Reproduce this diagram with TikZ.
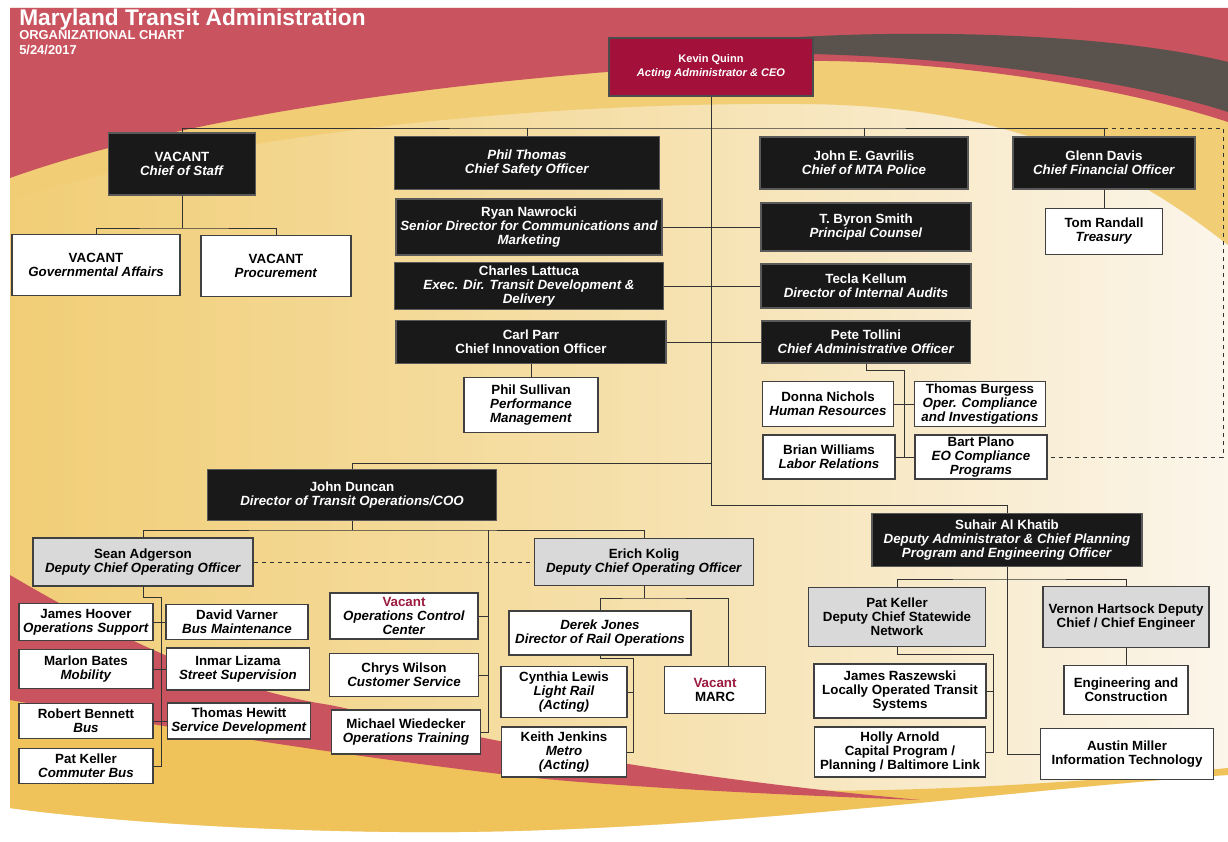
\documentclass[tikz,border=0pt]{standalone}
\usepackage{fontspec}
\setmainfont{Liberation Sans}
\usetikzlibrary{positioning}
\definecolor{mtared}{HTML}{C9545F}
\definecolor{mtadark}{HTML}{5A534D}
\definecolor{mtayellow}{HTML}{F1CE76}
\definecolor{mtadeep}{HTML}{EFC35A}
\definecolor{mtacream}{HTML}{FBF5EA}
\definecolor{ceored}{HTML}{A3113A}
\definecolor{vacred}{HTML}{9B1B3F}

\begin{document}
\begin{tikzpicture}
[x=0.75pt, y=-0.75pt,
% STYLES
every node/.style={font=\fontsize{10}{10.5}\selectfont\bfseries, align=center, inner sep=1pt},
% size of a box, in pixels of the sheet
wh/.style 2 args={minimum width=#1*0.75pt, minimum height=#2*0.75pt},
% the ceo style is used for the administrator only
ceo/.style={rectangle, draw=black!70, fill=ceored, text=white, line width=0.9pt, font=\fontsize{8.3}{10.5}\selectfont\bfseries},
% the exec style is used for the officers reporting to the administrator
exec/.style={rectangle, draw=black!65, fill=black!90, text=white, line width=0.9pt},
% the unit style is used for the offices below them
unit/.style={rectangle, draw=black!75, fill=white, line width=0.9pt},
deputy/.style={unit, fill=black!15},
title/.style={anchor=base west, text=white, inner sep=0pt},
link/.style={draw=black!80, line width=0.7pt}]

% BACKGROUND
\fill[white] (0,0) rectangle (1228,842);
\shade[left color=mtayellow, right color=mtacream, middle color=mtayellow!55!mtacream]
  (10,8) -- (1228,8) -- (1228,775) .. controls (1000,790) and (700,835) .. (400,832)
  .. controls (200,830) and (60,815) .. (10,808) -- cycle;
\fill[mtayellow] (10,60) -- (900,40) .. controls (1050,50) and (1150,80) .. (1228,115) -- (1228,245)
  .. controls (1120,160) and (1000,105) .. (800,104) .. controls (500,102) and (200,140) .. (10,200) -- cycle;
\fill[mtared] (10,8) -- (1228,8) -- (1228,122) .. controls (1100,80) and (900,55) .. (760,62)
  .. controls (500,75) and (200,110) .. (10,178) -- cycle;
\fill[mtadark] (680,48) .. controls (850,25) and (1100,30) .. (1228,62) -- (1228,112)
  .. controls (1100,70) and (850,45) .. (680,56) -- cycle;
\fill[mtadeep] (10,700) .. controls (250,740) and (400,760) .. (500,773)
  .. controls (700,795) and (900,800) .. (1228,768) -- (1228,775)
  .. controls (1000,790) and (700,835) .. (400,832) .. controls (200,830) and (60,815) .. (10,808) -- cycle;
\fill[mtared] (10,575) .. controls (120,640) and (230,690) .. (330,705)
  .. controls (450,730) and (600,770) .. (920,800)
  .. controls (700,792) and (560,782) .. (500,774)
  .. controls (400,762) and (250,742) .. (10,700) -- cycle;

% TITLE
\node[title, font=\fontsize{17}{17}\selectfont\bfseries] (maintitle) at (19,26) {Maryland Transit Administration};
\node[title, font=\fontsize{9.7}{10}\selectfont\bfseries] (subtitle) at (19,40) {ORGANIZATIONAL CHART};
\node[title, font=\fontsize{9.7}{10}\selectfont\bfseries] (chartdate) at (19,55) {5/24/2017};

% Draw the administrator and the officers
\node[ceo, wh={204}{58}] (ceo) at (711,67) {Kevin Quinn\\\textit{Acting Administrator \& CEO}};
\node[exec, wh={147}{62}] (cos) at (182,164) {VACANT\\\textit{Chief of Staff}};
\node[exec, wh={265}{53}] (safety) at (527,163) {\textit{Phil Thomas}\\\textit{Chief Safety Officer}};
\node[exec, wh={208}{52}] (police) at (864,163) {John E. Gavrilis\\\textit{Chief of MTA Police}};
\node[exec, wh={182}{52}] (cfo) at (1104,163) {Glenn Davis\\\textit{Chief Financial Officer}};
\node[unit, wh={117}{46}, below=13.5pt of cfo] (treasury) {Tom Randall\\\textit{Treasury}};

\node[unit, wh={168}{61}] (govaff) at (96,265) {VACANT\\\textit{Governmental Affairs}};
\node[unit, wh={150}{61}] (procure) at (276,266) {VACANT\\\textit{Procurement}};

\node[exec, wh={266}{56}] (comms) at (529,227) {Ryan Nawrocki\\\textit{Senior Director for Communications and}\\\textit{Marketing}};
\node[exec, wh={210}{48}] (counsel) at (866,227) {T. Byron Smith\\\textit{Principal Counsel}};
\node[exec, wh={269}{47}] (transdev) at (529,286) {Charles Lattuca\\\textit{Exec. Dir. Transit Development \&}\\\textit{Delivery}};
\node[exec, wh={210}{44}] (audits) at (866,286) {Tecla Kellum\\\textit{Director of Internal Audits}};
\node[exec, wh={270}{43}] (innov) at (531,342) {Carl Parr\\Chief Innovation Officer};
\node[exec, wh={209}{42}] (admin) at (866,342) {Pete Tollini\\\textit{Chief Administrative Officer}};
\node[unit, wh={134}{55}, below=9.75pt of innov] (perf) {Phil Sullivan\\\textit{Performance}\\\textit{Management}};

\node[unit, wh={131}{45}] (hr) at (828,404) {Donna Nichols\\\textit{Human Resources}};
\node[unit, wh={131}{45}] (opcomp) at (980,404) {Thomas Burgess\\\textit{Oper. Compliance}\\\textit{and Investigations}};
\node[unit, wh={132}{44}] (labor) at (829,457) {Brian Williams\\\textit{Labor Relations}};
\node[unit, wh={132}{44}] (eocomp) at (981,457) {Bart Plano\\\textit{EO Compliance}\\\textit{Programs}};

% Transit operations
\node[exec, wh={289}{51}] (coo) at (352,495) {John Duncan\\\textit{Director of Transit Operations/COO}};
\node[deputy, wh={220}{48}] (adgerson) at (143,562) {Sean Adgerson\\\textit{Deputy Chief Operating Officer}};
\node[deputy, wh={219}{47}] (kolig) at (644,562) {Erich Kolig\\\textit{Deputy Chief Operating Officer}};

\node[unit, wh={134}{37}] (hoover) at (86,622) {James Hoover\\\textit{Operations Support}};
\node[unit, wh={142}{35}] (varner) at (237,622) {David Varner\\\textit{Bus Maintenance}};
\node[unit, wh={134}{39}] (bates) at (86,669) {Marlon Bates\\\textit{Mobility}};
\node[unit, wh={143}{42}] (lizama) at (238,669) {Inmar Lizama\\\textit{Street Supervision}};
\node[unit, wh={134}{35}] (bennett) at (86,721) {Robert Bennett\\\textit{Bus}};
\node[unit, wh={143}{36}] (hewitt) at (239,721) {Thomas Hewitt\\\textit{Service Development}};
\node[unit, wh={134}{35}] (kellerbus) at (86,766) {Pat Keller\\\textit{Commuter Bus}};

\node[unit, wh={148}{46}] (occ) at (404,616) {\textcolor{vacred}{Vacant}\\\textit{Operations Control}\\\textit{Center}};
\node[unit, wh={149}{43}] (wilson) at (404,675) {Chrys Wilson\\\textit{Customer Service}};
\node[unit, wh={149}{44}] (wiedecker) at (406,732) {Michael Wiedecker\\\textit{Operations Training}};

\node[unit, wh={182}{44}] (railops) at (600,633) {\textit{Derek Jones}\\\textit{Director of Rail Operations}};
\node[unit, wh={101}{47}] (marc) at (715,690) {\textcolor{vacred}{Vacant}\\MARC};
\node[unit, wh={126}{51}] (lightrail) at (564,692) {Cynthia Lewis\\\textit{Light Rail}\\\textit{(Acting)}};
\node[unit, wh={125}{50}] (metro) at (564,752) {Keith Jenkins\\\textit{Metro}\\\textit{(Acting)}};

% Planning and engineering
\node[exec, wh={270}{53}] (khatib) at (1007,540) {Suhair Al Khatib\\\textit{Deputy Administrator \& Chief Planning}\\\textit{Program and Engineering Officer}};
\node[deputy, wh={177}{59}] (statewide) at (897,617) {Pat Keller\\Deputy Chief Statewide\\Network};
\node[deputy, wh={166}{61}] (chiefeng) at (1126,617) {Vernon Hartsock Deputy\\Chief / Chief Engineer};
\node[unit, wh={172}{54}] (locops) at (900,691) {James Raszewski\\Locally Operated Transit\\Systems};
\node[unit, wh={171}{50}] (capital) at (900,752) {Holly Arnold\\Capital Program /\\Planning / Baltimore Link};
\node[unit, wh={124}{49}] (engcon) at (1126,690) {Engineering and\\Construction};
\node[unit, wh={173}{51}] (infotech) at (1127,754) {Austin Miller\\Information Technology};

% Junctions of the connectors
\coordinate (topbar) at (711,128);
\coordinate (coobar) at (711,463);
\coordinate (khatibbar) at (711,505);
\coordinate (cosbar) at (182,228);
\coordinate (adminbar) at (904,370);
\coordinate (dashcorner) at (1223,128);
\coordinate (coojoin) at (352,530);
\coordinate (opsline) at (488,530);
\coordinate (adgjoin) at (161,597);
\coordinate (koljoin) at (644,598);
\coordinate (marcjoin) at (728,598);
\coordinate (railjoin) at (633,658);
\coordinate (khatibjoin) at (1007,579);
\coordinate (statejoin) at (993,654);

% Draw the links
\path[link]
(ceo.south) -- (khatibbar) -| (khatib.north)
(cos.north) |- (topbar) -| (cfo.north)
(safety.north) -- (safety.north |- topbar)
(police.north) -- (police.north |- topbar)
(coobar) -| (coo.north)
(cfo.south) -- (treasury.north)
(cos.south) -- (cosbar)
(govaff.north) |- (cosbar) -| (procure.north)
(comms.east) -- (counsel.west)
(transdev.east) -- (audits.west)
(innov.east) -- (admin.west)
(innov.south) -- (perf.north)
(admin.south) |- (adminbar) -- (adminbar |- labor.east)
(hr.east) -- (opcomp.west)
(labor.east) -- (eocomp.west)
(coo.south) -- (coojoin)
(adgerson.north) |- (coojoin) -| (kolig.north)
(opsline) |- (wiedecker.east)
(occ.east) -- (occ.east -| opsline)
(wilson.east) -- (wilson.east -| opsline)
(adgerson.south) |- (adgjoin) |- (kellerbus.east)
(hoover.east) -- (varner.west)
(bates.east) -- (lizama.west)
(bennett.east) -- (hewitt.west)
(kolig.south) -- (koljoin)
(railops.north) |- (koljoin) -- (marcjoin) -- (marcjoin |- marc.north)
(railops.south) |- (railjoin) |- (metro.east)
(lightrail.east) -- (lightrail.east -| railjoin)
(khatib.south) |- (infotech.west)
(statewide.north) |- (khatibjoin) -| (chiefeng.north)
(statewide.south) |- (statejoin) |- (capital.east)
(locops.east) -- (locops.east -| statejoin)
(chiefeng.south) -- (engcon.north);

\path[link, dashed]
(cfo.north |- topbar) -- (dashcorner) |- (eocomp.east)
(adgerson.east) -- (kolig.west);

\end{tikzpicture}
\end{document}
